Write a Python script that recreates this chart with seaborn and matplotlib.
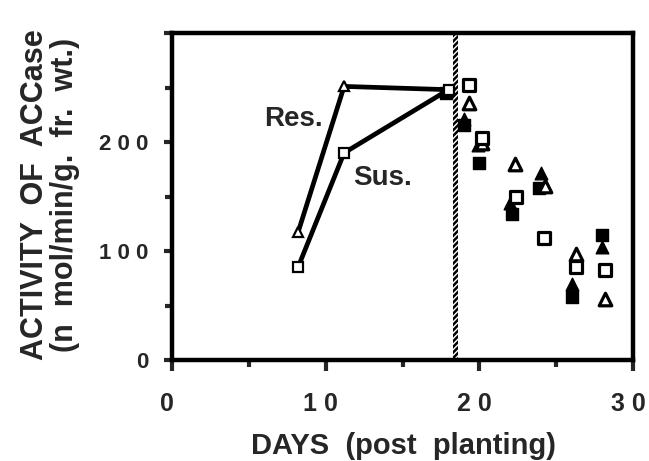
import matplotlib
matplotlib.use("Agg")
import matplotlib.pyplot as plt
import matplotlib.transforms as mtransforms
import seaborn as sns
import pandas as pd

# ---- data ----
line_days = [8.2, 11.2, 18.0]
res_vals = [117, 251, 248]
sus_vals = [85, 190, 248]

open_sq_days = [19.3, 20.2, 22.4, 24.2, 26.3, 28.2]
open_sq_vals = [252, 204, 150, 112, 85, 83]
open_tri_days = [19.3, 20.2, 22.3, 24.3, 26.3, 28.2]
open_tri_vals = [236, 199, 180, 160, 97, 56]
fill_tri_days = [19.0, 19.9, 22.0, 24.0, 26.0, 28.0]
fill_tri_vals = [221, 197, 144, 172, 70, 104]
fill_sq_days = [17.8, 19.0, 20.0, 22.1, 23.9, 26.0, 28.0]
fill_sq_vals = [245, 216, 181, 134, 158, 58, 115]

divider_day = 18.45
x_ticks = [0, 10, 20, 30]
x_ticklabels = ["0", "1 0", "2 0", "3 0"]
y_ticks = [0, 100, 200, 300]
y_ticklabels = ["0", "1 0 0", "2 0 0", ""]

# ---- style ----
sns.set_theme(style="ticks")
plt.rcParams["font.family"] = ["Liberation Sans", "DejaVu Sans"]
plt.rcParams["font.weight"] = "bold"
plt.rcParams["hatch.linewidth"] = 1.8

fig = plt.figure(figsize=(6.49, 4.61), dpi=100)
ax = fig.add_axes([172 / 649, 1 - 360 / 461, (633 - 172) / 649, (360 - 33) / 461])

# hatched divider
ax.axvspan(divider_day - 0.15, divider_day + 0.15, facecolor="none",
           edgecolor="black", hatch="//////", linewidth=0, zorder=1)

# scatter groups
ms = 66
sns.scatterplot(x=fill_sq_days, y=fill_sq_vals, marker="s", s=ms, color="black",
                edgecolor="black", linewidth=1, ax=ax, zorder=2)
sns.scatterplot(x=fill_tri_days, y=fill_tri_vals, marker="^", s=ms * 1.25, color="black",
                edgecolor="black", linewidth=1, ax=ax, zorder=2)
sns.scatterplot(x=open_tri_days, y=open_tri_vals, marker="^", s=ms * 1.25, facecolor="white",
                edgecolor="black", linewidth=2.3, ax=ax, zorder=3)
sns.scatterplot(x=open_sq_days, y=open_sq_vals, marker="s", s=ms, facecolor="white",
                edgecolor="black", linewidth=2.3, ax=ax, zorder=3)

# lines
sns.lineplot(x=line_days, y=res_vals, color="black", lw=3.4, marker="^", markersize=7,
             markerfacecolor="white", markeredgecolor="black", markeredgewidth=1.6,
             markevery=[0, 1], ax=ax, zorder=4)
sns.lineplot(x=line_days, y=sus_vals, color="black", lw=3.4, marker="s", markersize=7,
             markerfacecolor="white", markeredgecolor="black", markeredgewidth=1.6,
             ax=ax, zorder=4)

ax.text(7.9, 221, "Res.", fontsize=20, fontweight="bold", ha="center", va="center")
ax.text(13.7, 167, "Sus.", fontsize=20, fontweight="bold", ha="center", va="center")

ax.set_xlim(0, 30)
ax.set_ylim(0, 300)
ax.set_xticks(x_ticks)
ax.set_xticklabels(x_ticklabels)
ax.set_yticks(y_ticks)
ax.set_yticklabels(y_ticklabels)
ax.set_xticks([5, 15, 25], minor=True)
ax.set_yticks([50, 150, 250], minor=True)

for s in ax.spines.values():
    s.set_visible(True)
    s.set_linewidth(3.2)
    s.set_color("black")

ax.tick_params(axis="x", which="major", length=8, width=3, pad=15, labelsize=18, direction="out")
ax.tick_params(axis="x", which="minor", length=5, width=3, direction="out")
ax.tick_params(axis="y", which="major", length=6, width=3, pad=11, labelsize=16, direction="out")
ax.tick_params(axis="y", which="minor", length=5, width=3, direction="out")
shift = mtransforms.ScaledTranslation(-5 / 100, 0, fig.dpi_scale_trans)
for lab in ax.get_xticklabels():
    lab.set_fontweight("bold")
    lab.set_transform(lab.get_transform() + shift)
for lab in ax.get_yticklabels():
    lab.set_fontweight("bold")

ax.set_xlabel("DAYS  (post  planting)", fontsize=21, fontweight="bold")
ax.xaxis.label.set_va("center")
ax.xaxis.set_label_coords(0.502, -0.262)
ax.set_ylabel("ACTIVITY  OF  ACCase\n(n  mol/min/g.  fr.  wt.)", fontsize=22,
              fontweight="bold", linespacing=1.0)
ax.yaxis.label.set_va("center")
ax.yaxis.set_label_coords(-0.265, 0.505)

fig.savefig("out.png", dpi=100)
